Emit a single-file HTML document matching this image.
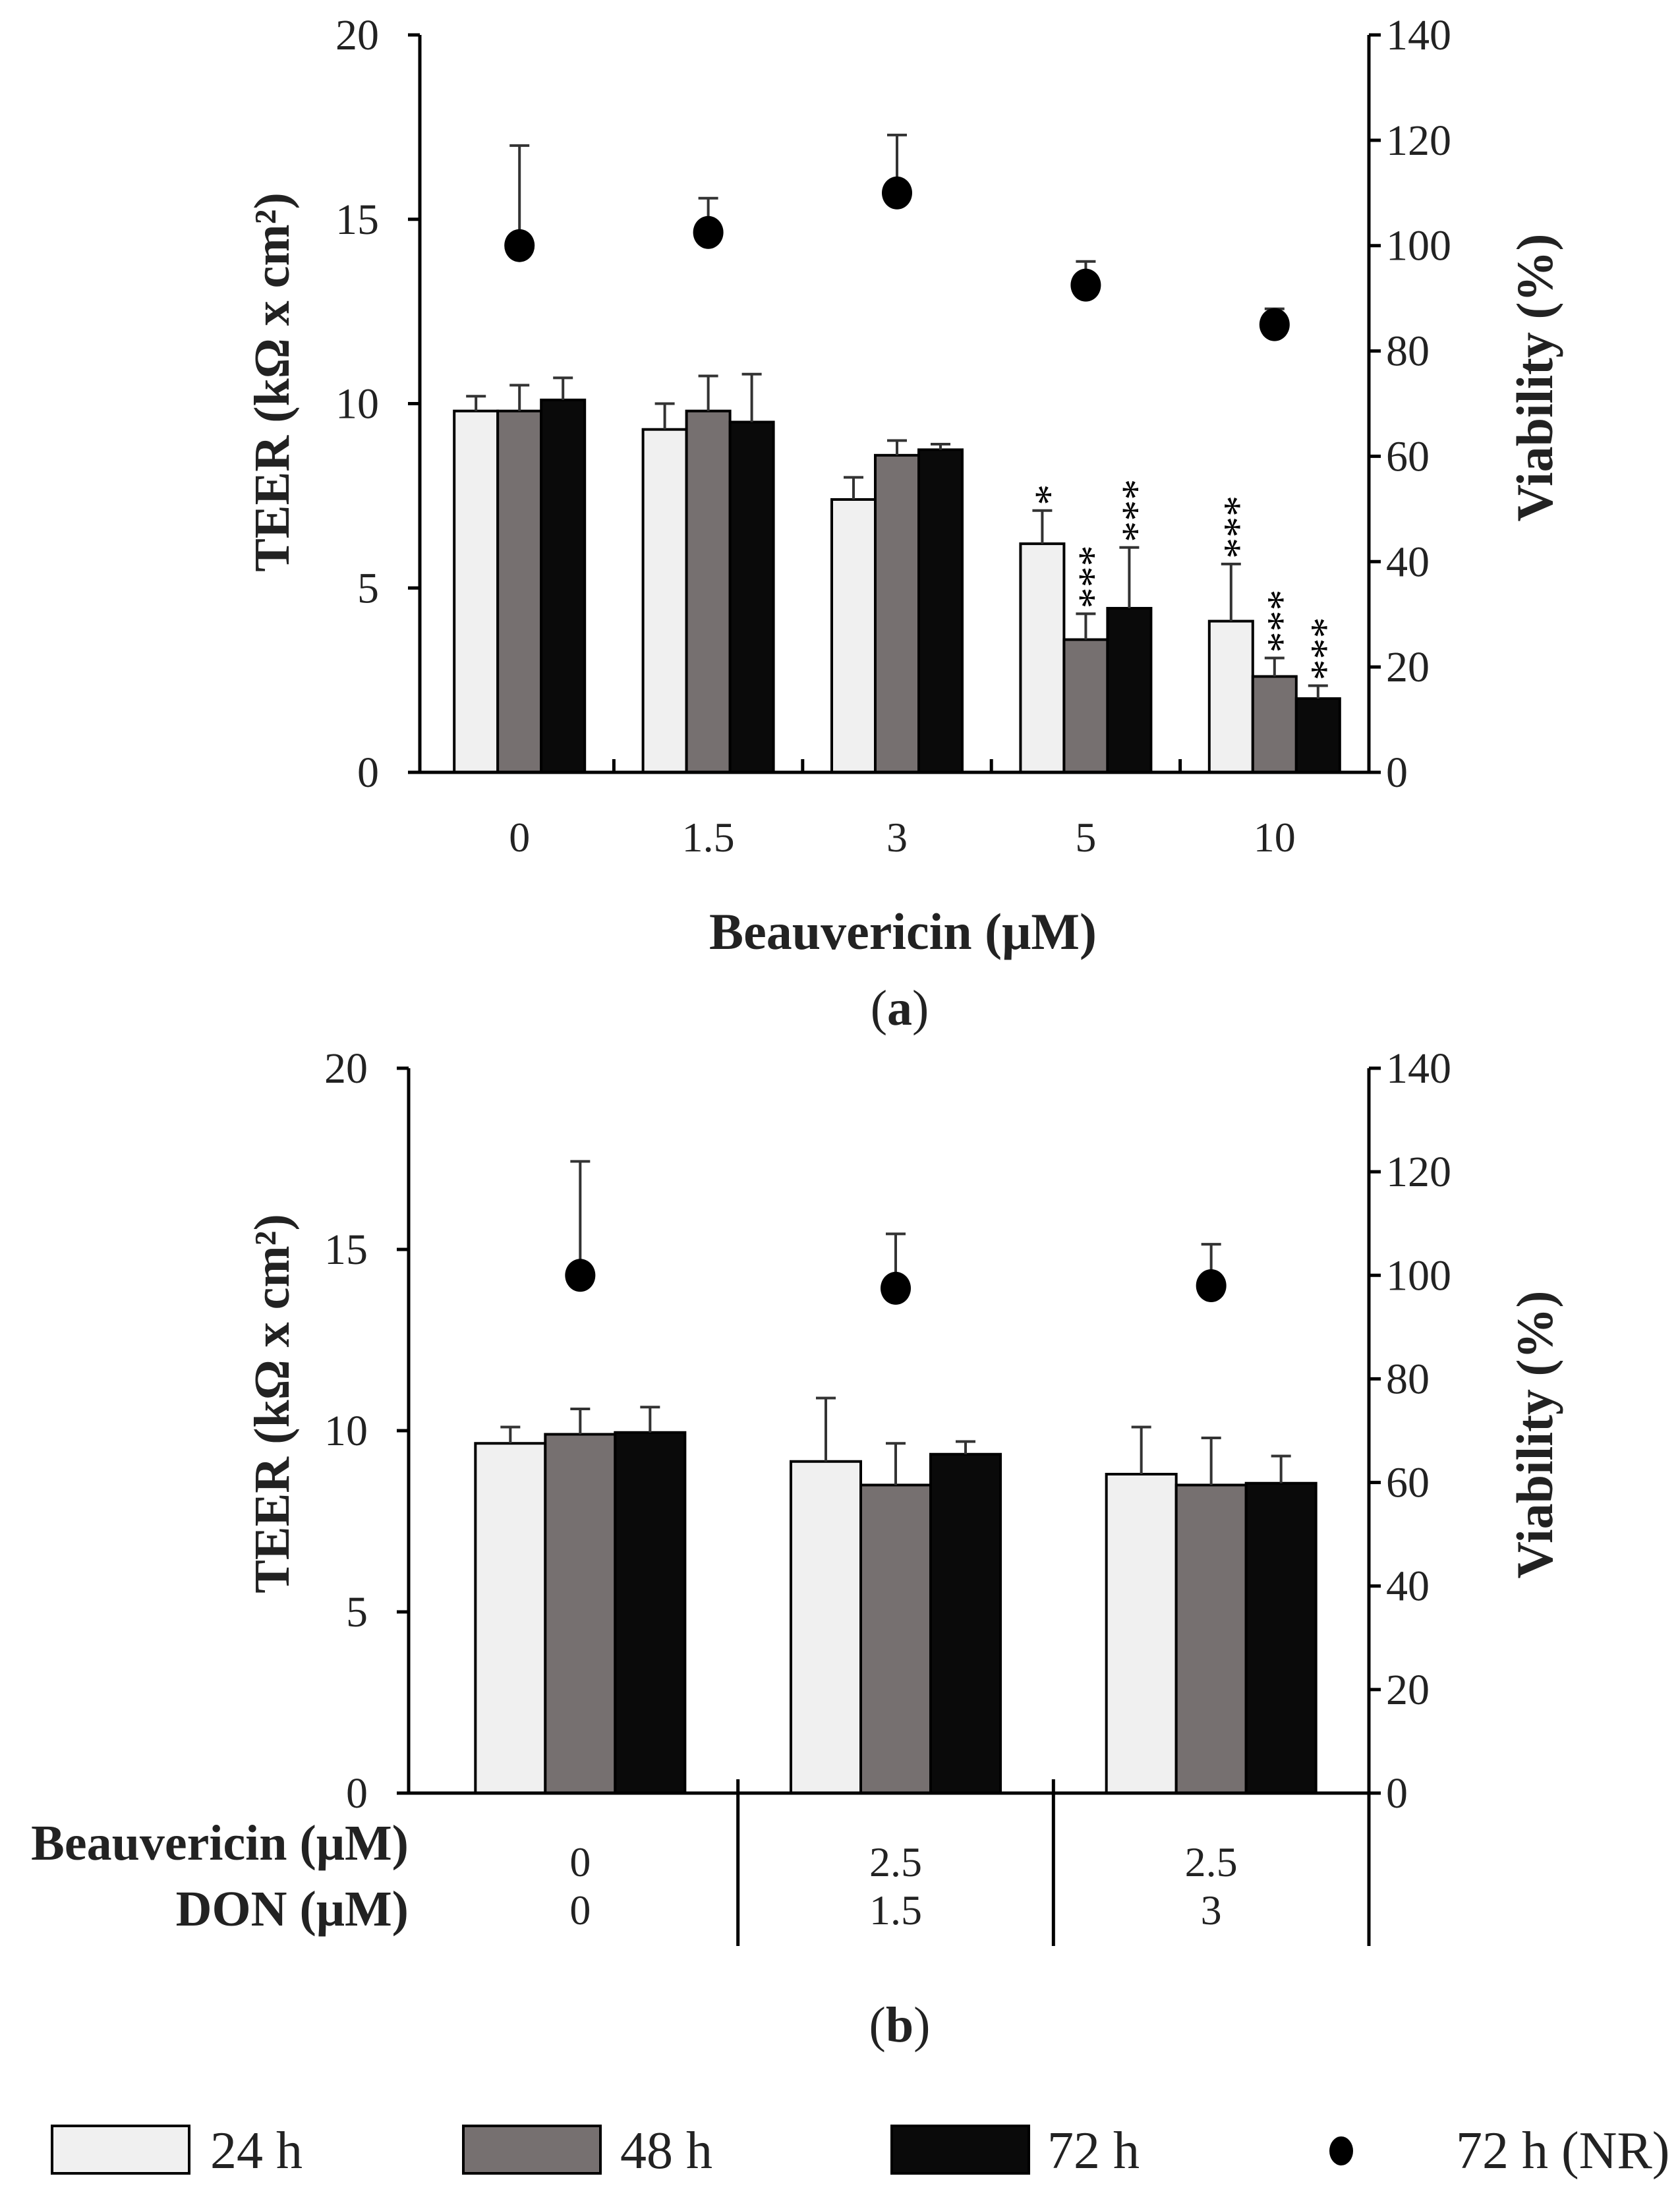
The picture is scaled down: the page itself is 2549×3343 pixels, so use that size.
<!DOCTYPE html>
<html><head><meta charset="utf-8"><style>
html,body{margin:0;padding:0;background:#fff;}
svg{display:block;font-family:"Liberation Serif",serif;}
</style></head><body>
<svg id="chart" width="2549" height="3343" viewBox="0 0 2549 3343" xmlns="http://www.w3.org/2000/svg"></svg>
<script>
const catsA = ["0","1.5","3","5","10"];
const teer24A = [9.8,9.3,7.4,6.2,4.1];
const teer24AErr = [10.2,10.0,8.0,7.1,5.65];
const teer48A = [9.8,9.8,8.6,3.6,2.6];
const teer48AErr = [10.5,10.75,9.0,4.3,3.1];
const teer72A = [10.1,9.5,8.75,4.45,2.0];
const teer72AErr = [10.7,10.8,8.9,6.1,2.35];
const viabA = [100,102.5,110,92.5,85];
const viabAErr = [119,109,121,97,88];
const sig24A = ["","","","*","***"];
const sig48A = ["","","","***","***"];
const sig72A = ["","","","***","***"];

const catsBeauB = ["0","2.5","2.5"];
const catsDonB = ["0","1.5","3"];
const teer24B = [9.65,9.15,8.8];
const teer24BErr = [10.1,10.9,10.1];
const teer48B = [9.9,8.5,8.5];
const teer48BErr = [10.6,9.65,9.8];
const teer72B = [9.95,9.35,8.55];
const teer72BErr = [10.65,9.7,9.3];
const viabB = [100,97.5,98];
const viabBErr = [122,108,106];

const leftTicks = [0,5,10,15,20];
const rightTicks = [0,20,40,60,80,100,120,140];

const NS="http://www.w3.org/2000/svg";
const svg=document.getElementById('chart');
function mk(tag,attrs,parent,text){const e=document.createElementNS(NS,tag);for(const k in attrs)e.setAttribute(k,attrs[k]);if(text!==undefined)e.textContent=text;(parent||svg).appendChild(e);return e;}

function panel(o){
  const g=mk('g',{});
  
  
  const yL=v=>o.y0+(o.y1-o.y0)*(v/20);
  const yR=v=>o.y0+(o.y1-o.y0)*(v/140);
  const n=o.cats.length;
  const gw=(o.xR-o.xG)/n;
  const xC=i=>o.xG+gw*(i+0.5);
  const series=[[o.s24,o.e24,'#f0f0f0','bar-24h',o.g24],[o.s48,o.e48,'#767070','bar-48h',o.g48],[o.s72,o.e72,'#0a0a0a','bar-72h',o.g72]];
  series.forEach((s,k)=>{
    s[0].forEach((v,i)=>{
      const x=xC(i)+(k-1.5)*o.bw;
      const r=mk('rect',{x:x,y:yL(v),width:o.bw,height:o.y0-yL(v),fill:s[2],stroke:'#000','stroke-width':4},g);
      
      
      const cx=x+o.bw/2;
      const eb=mk('path',{d:`M${cx},${yL(v)}V${yL(s[1][i])}M${cx-15},${yL(s[1][i])}H${cx+15}`,stroke:'#333','stroke-width':4,fill:'none'},g);
      
      
      if(s[4]&&s[4][i]){
        const ty=yL(s[1][i])-8;
        const t=mk('text',{x:cx,y:ty,'font-size':64,'text-anchor':'start',transform:`rotate(-90 ${cx} ${ty})`,dy:'0.5em',fill:'#000'},g,s[4][i]);
        
        
      }
    });
  });
  o.viab.forEach((v,i)=>{
    const cx=xC(i);
    const eb=mk('path',{d:`M${cx},${yR(v)}V${yR(o.viabErr[i])}M${cx-15},${yR(o.viabErr[i])}H${cx+15}`,stroke:'#333','stroke-width':4,fill:'none'},g);
    
    
    const c=mk('ellipse',{cx:cx,cy:yR(v),rx:23,ry:25,fill:'#000'},g);
    
    
  });
  const ax=mk('path',{d:`M${o.xL},${o.y1}V${o.y0}H${o.xR}M${o.xR},${o.y1}V${o.y0}`,stroke:'#000','stroke-width':5,fill:'none'},g);
  
  
  leftTicks.forEach(v=>{
    mk('path',{d:`M${o.xL-18},${yL(v)}H${o.xL}`,stroke:'#000','stroke-width':5},g);
    const t=mk('text',{x:o.xL-62,y:yL(v)+22,'font-size':66,'text-anchor':'end',fill:'#222'},g,String(v));
    
    
  });
  rightTicks.forEach(v=>{
    mk('path',{d:`M${o.xR},${yR(v)}H${o.xR+18}`,stroke:'#000','stroke-width':5},g);
    const t=mk('text',{x:o.xR+26,y:yR(v)+22,'font-size':66,'text-anchor':'start',fill:'#222'},g,String(v));
    
    
  });
  const lt=mk('text',{x:o.tlx,y:o.tly,'font-size':76,'font-weight':'bold','text-anchor':'middle',transform:`rotate(-90 ${o.tlx} ${o.tly})`,fill:'#222'},g,'TEER (kΩ x cm²)');
  
  
  const rt=mk('text',{x:o.trx,y:o.try,'font-size':78,'font-weight':'bold','text-anchor':'middle',transform:`rotate(-90 ${o.trx} ${o.try})`,fill:'#222'},g,'Viability (%)');
  
  
  return {g,xC,gw};
}

const A=panel({name:'panel-a',xL:637,xG:645,xR:2077,y0:1172,y1:53,bw:66,cats:catsA,s24:teer24A,e24:teer24AErr,s48:teer48A,e48:teer48AErr,s72:teer72A,e72:teer72AErr,g24:sig24A,g48:sig48A,g72:sig72A,viab:viabA,viabErr:viabAErr,tlx:438,tly:580,trx:2355,try:573});
catsA.forEach((c,i)=>{
  const t=mk('text',{x:A.xC(i),y:1292,'font-size':64,'text-anchor':'middle',fill:'#222'},A.g,c);
  
  
  if(i>0) mk('path',{d:`M${A.xC(i)-A.gw/2},1172V1152`,stroke:'#000','stroke-width':5},A.g);
});
let t=mk('text',{x:1370,y:1440,'font-size':78,'font-weight':'bold','text-anchor':'middle',fill:'#222'},A.g,'Beauvericin (μM)');


t=mk('text',{x:1365,y:1555,'font-size':76,'text-anchor':'middle',fill:'#222'},null,'');


t.innerHTML='(<tspan font-weight="bold">a</tspan>)';

const B=panel({name:'panel-b',xL:620,xG:641,xR:2077,y0:2721,y1:1621,bw:106,cats:catsBeauB,s24:teer24B,e24:teer24BErr,s48:teer48B,e48:teer48BErr,s72:teer72B,e72:teer72BErr,viab:viabB,viabErr:viabBErr,tlx:438,tly:2130,trx:2355,try:2177});
catsBeauB.forEach((c,i)=>{
  let t=mk('text',{x:B.xC(i),y:2847,'font-size':64,'text-anchor':'middle',fill:'#222'},B.g,c);
  
  
  t=mk('text',{x:B.xC(i),y:2920,'font-size':64,'text-anchor':'middle',fill:'#222'},B.g,catsDonB[i]);
  
  
  mk('path',{d:`M${B.xC(i)+B.gw/2},2700V2953`,stroke:'#000','stroke-width':5},B.g);
});
t=mk('text',{x:620,y:2822,'font-size':76,'font-weight':'bold','text-anchor':'end',fill:'#222'},B.g,'Beauvericin (μM)');


t=mk('text',{x:620,y:2922,'font-size':76,'font-weight':'bold','text-anchor':'end',fill:'#222'},B.g,'DON (μM)');


t=mk('text',{x:1365,y:3098,'font-size':76,'text-anchor':'middle',fill:'#222'},null,'');


t.innerHTML='(<tspan font-weight="bold">b</tspan>)';

const lg=mk('g',{});


[[79,'#f0f0f0',319,'24 h'],[703,'#767070',941,'48 h'],[1353,'#0a0a0a',1589,'72 h']].forEach(l=>{
  const r=mk('rect',{x:l[0],y:3226,width:208,height:72,fill:l[1],stroke:'#000','stroke-width':4},lg);
  
  
  const tt=mk('text',{x:l[2],y:3290,'font-size':80,fill:'#222'},lg,l[3]);
  
  
});
const ld=mk('ellipse',{cx:2035,cy:3264,rx:18,ry:22,fill:'#000'},lg);


t=mk('text',{x:2209,y:3290,'font-size':80,fill:'#222'},lg,'72 h (NR)');


</script>
</body></html>
